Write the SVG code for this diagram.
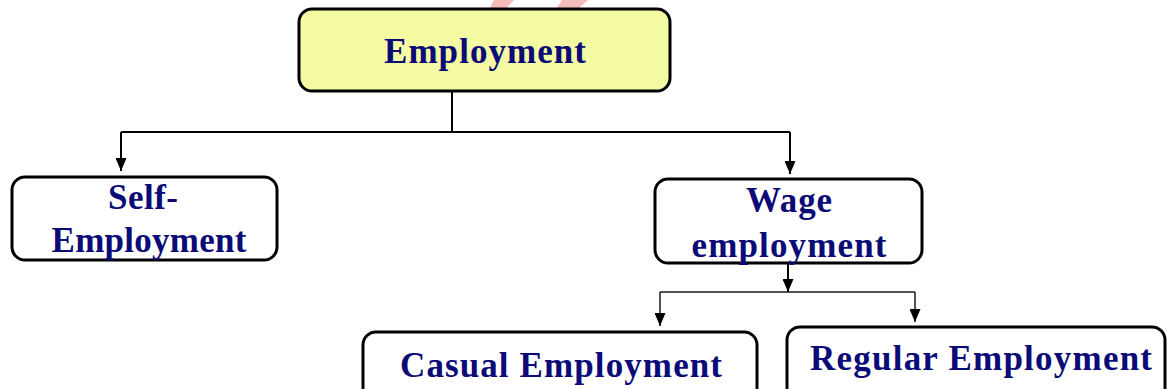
<svg xmlns="http://www.w3.org/2000/svg" width="1167" height="389" viewBox="0 0 1167 389">
  <style>
    .box { fill: #ffffff; stroke: #000000; stroke-width: 3; }
    .root { fill: #f4fba2; stroke: #000000; stroke-width: 3; }
    .label { font-family: "Liberation Serif", "Times New Roman", serif; font-weight: bold; font-size: 35px; fill: #0b0b78; text-anchor: middle; }
    .link { fill: none; stroke: #000000; stroke-width: 2; }
    .thin { fill: none; stroke: #1a1a1a; stroke-width: 1.5; }
  </style>
  <defs>
    <marker id="down" viewBox="0 0 11 13" refX="5.5" refY="13" markerWidth="11" markerHeight="13" markerUnits="userSpaceOnUse" orient="0">
      <path d="M0,0 L11,0 L5.5,13 Z" fill="#000000"/>
    </marker>
  </defs>

  <!-- faint logo mark at the top edge -->
  <g id="logo-mark" fill="#f5bcbc">
    <polygon points="494,0 514,0 506,9 489,9"/>
    <polygon points="562,0 588,0 578,9 556,9"/>
  </g>

  <g id="connectors">
    <path class="link" d="M452,91 V132"/>
    <path class="link" d="M121,132 H790"/>
    <path class="link" d="M121,132 V171" marker-end="url(#down)"/>
    <path class="link" d="M790,132 V174" marker-end="url(#down)"/>
    <path class="link" d="M788,263 V292" marker-end="url(#down)"/>
    <path class="thin" d="M660,292 H915"/>
    <path class="thin" d="M660,292 V326" marker-end="url(#down)"/>
    <path class="thin" d="M915,292 V322" marker-end="url(#down)"/>
  </g>

  <g id="employment">
    <rect class="root" x="299" y="9" width="371" height="82" rx="13"/>
    <text class="label" x="485" y="63" textLength="202" lengthAdjust="spacing">Employment</text>
  </g>

  <g id="self-employment">
    <rect class="box" x="12" y="177" width="265" height="83" rx="13"/>
    <text class="label" x="143" y="209" textLength="70" lengthAdjust="spacing">Self-</text>
    <text class="label" x="149" y="252" textLength="195" lengthAdjust="spacing">Employment</text>
  </g>

  <g id="wage-employment">
    <rect class="box" x="655" y="179" width="267" height="84" rx="13"/>
    <text class="label" x="789" y="212" textLength="86" lengthAdjust="spacing">Wage</text>
    <text class="label" x="789" y="257" textLength="195" lengthAdjust="spacing">employment</text>
  </g>

  <g id="casual-employment">
    <rect class="box" x="363" y="332" width="394" height="80" rx="13"/>
    <text class="label" x="561" y="377" textLength="322" lengthAdjust="spacing">Casual Employment</text>
  </g>

  <g id="regular-employment">
    <rect class="box" x="787" y="327" width="378" height="80" rx="13"/>
    <text class="label" x="981" y="370" textLength="342" lengthAdjust="spacing">Regular Employment</text>
  </g>
</svg>
